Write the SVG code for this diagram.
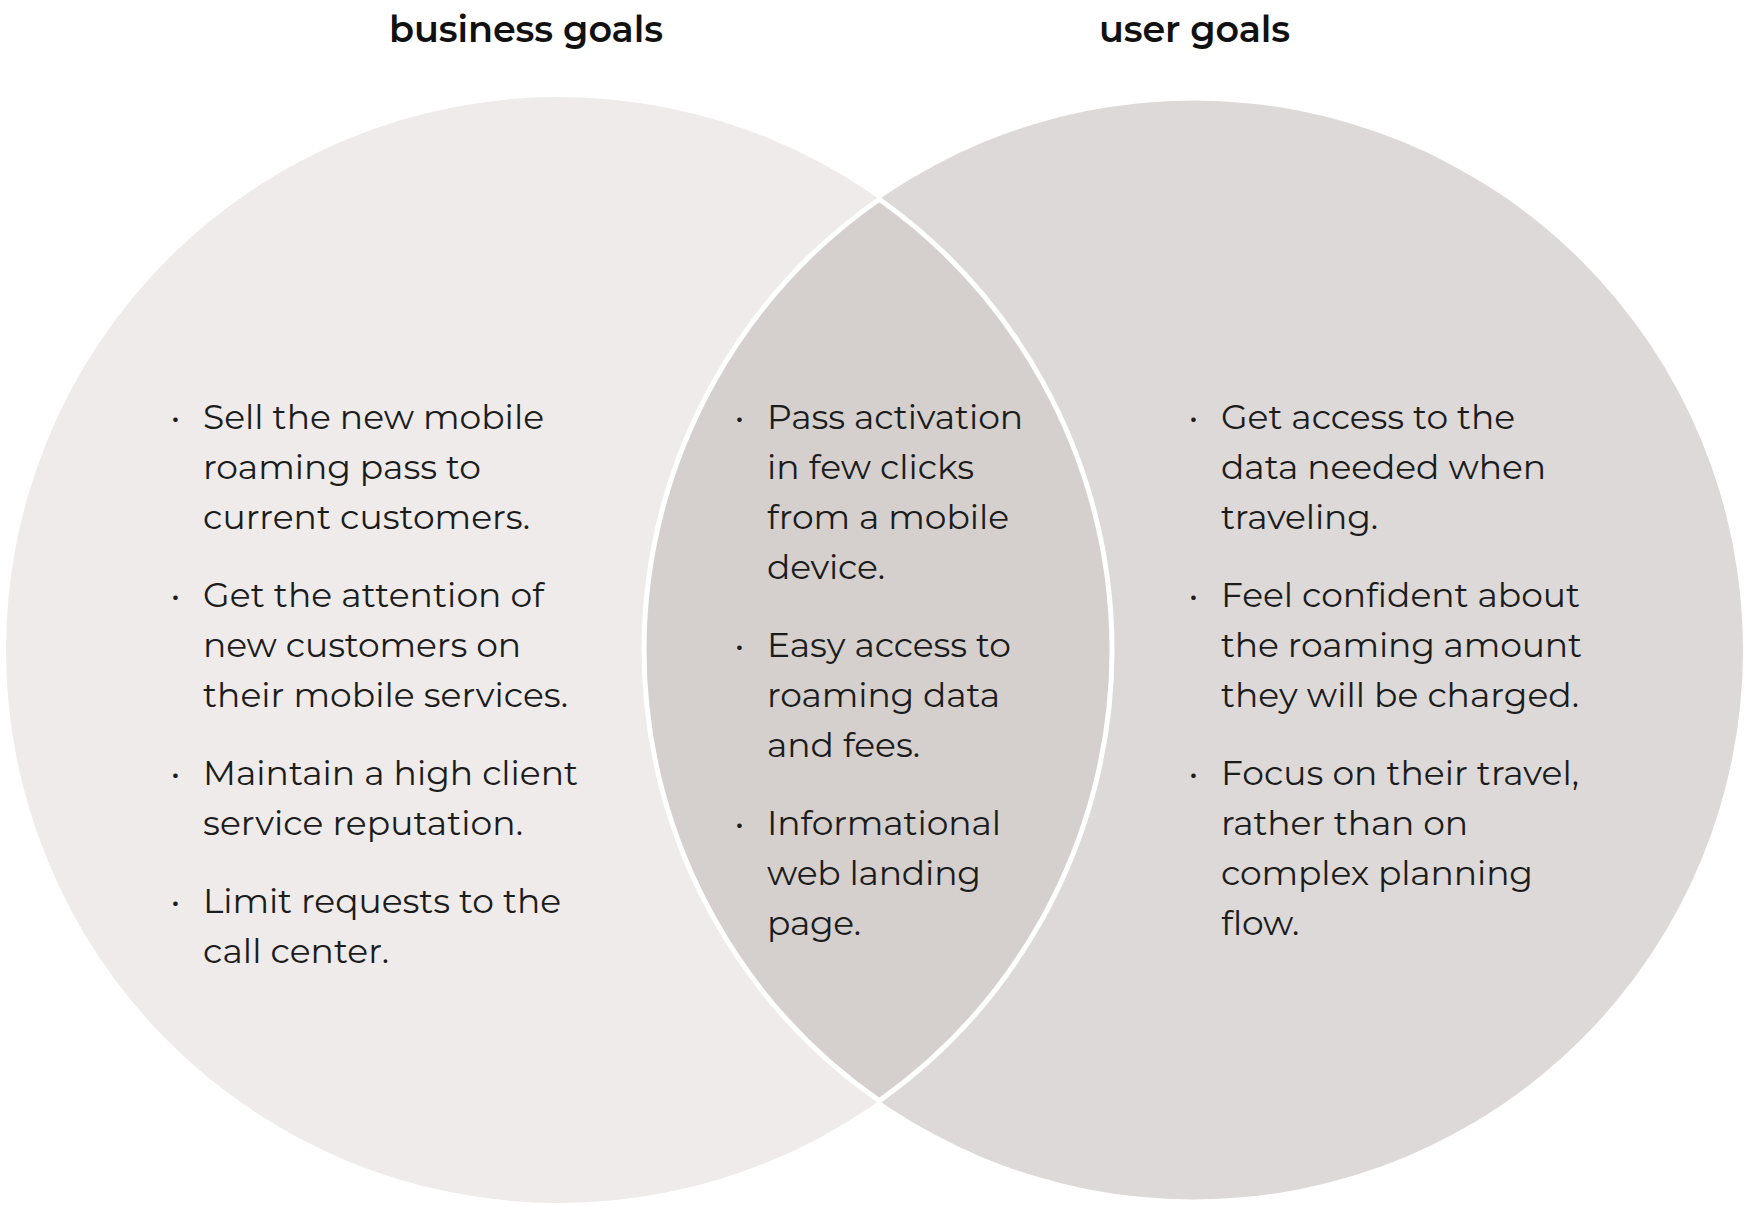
<svg xmlns="http://www.w3.org/2000/svg" width="1748" height="1210" viewBox="0 0 1748 1210">
<style>
.t{font-family:"Montserrat","Open Sans","Liberation Sans",sans-serif;font-size:34.5px;font-weight:400;fill:#1c1c1c}
.h{font-family:"Montserrat","Open Sans","Liberation Sans",sans-serif;font-size:36.5px;font-weight:600;fill:#111111}
.b{font-family:"Montserrat","Open Sans","Liberation Sans",sans-serif;font-size:30px;fill:#1c1c1c}
</style>
<rect width="1748" height="1210" fill="#ffffff"/>
<g id="business">
<circle cx="559" cy="650" r="553" fill="#EEEBEA"/>
</g>
<g id="user">
<circle cx="1193.5" cy="650" r="549.5" fill="#DDD9D8"/>
</g>
<g id="overlap">
<path d="M879.3 199.2 A553 553 0 0 1 879.3 1100.8 A549.5 549.5 0 0 1 879.3 199.2 Z" fill="#D5D0CD" stroke="#ffffff" stroke-width="5"/>
</g>
<g id="connectors"></g>
<g id="titles">
<text class="h" x="389" y="42" textLength="274">business goals</text>
<text class="h" x="1099" y="42" textLength="191">user goals</text>
</g>
<g id="business-text">
<text class="b" x="171" y="428">•</text>
<text class="t" x="203" y="429" textLength="341">Sell the new mobile</text>
<text class="t" x="203" y="479" textLength="278">roaming pass to</text>
<text class="t" x="203" y="529" textLength="327">current customers.</text>
<text class="b" x="171" y="606">•</text>
<text class="t" x="203" y="607" textLength="341">Get the attention of</text>
<text class="t" x="203" y="657" textLength="318">new customers on</text>
<text class="t" x="203" y="707" textLength="365">their mobile services.</text>
<text class="b" x="171" y="784">•</text>
<text class="t" x="203" y="785" textLength="375">Maintain a high client</text>
<text class="t" x="203" y="835" textLength="320">service reputation.</text>
<text class="b" x="171" y="912">•</text>
<text class="t" x="203" y="913" textLength="358">Limit requests to the</text>
<text class="t" x="203" y="963" textLength="186">call center.</text>
</g>
<g id="overlap-text">
<text class="b" x="735" y="428">•</text>
<text class="t" x="767" y="429" textLength="256">Pass activation</text>
<text class="t" x="767" y="479" textLength="207">in few clicks</text>
<text class="t" x="767" y="529" textLength="242">from a mobile</text>
<text class="t" x="767" y="579" textLength="118">device.</text>
<text class="b" x="735" y="656">•</text>
<text class="t" x="767" y="657" textLength="244">Easy access to</text>
<text class="t" x="767" y="707" textLength="233">roaming data</text>
<text class="t" x="767" y="757" textLength="153">and fees.</text>
<text class="b" x="735" y="834">•</text>
<text class="t" x="767" y="835" textLength="234">Informational</text>
<text class="t" x="767" y="885" textLength="214">web landing</text>
<text class="t" x="767" y="935" textLength="94">page.</text>
</g>
<g id="user-text">
<text class="b" x="1189" y="428">•</text>
<text class="t" x="1221" y="429" textLength="294">Get access to the</text>
<text class="t" x="1221" y="479" textLength="325">data needed when</text>
<text class="t" x="1221" y="529" textLength="157">traveling.</text>
<text class="b" x="1189" y="606">•</text>
<text class="t" x="1221" y="607" textLength="359">Feel confident about</text>
<text class="t" x="1221" y="657" textLength="361">the roaming amount</text>
<text class="t" x="1221" y="707" textLength="358">they will be charged.</text>
<text class="b" x="1189" y="784">•</text>
<text class="t" x="1221" y="785" textLength="358">Focus on their travel,</text>
<text class="t" x="1221" y="835" textLength="247">rather than on</text>
<text class="t" x="1221" y="885" textLength="312">complex planning</text>
<text class="t" x="1221" y="935" textLength="78">flow.</text>
</g>
</svg>
